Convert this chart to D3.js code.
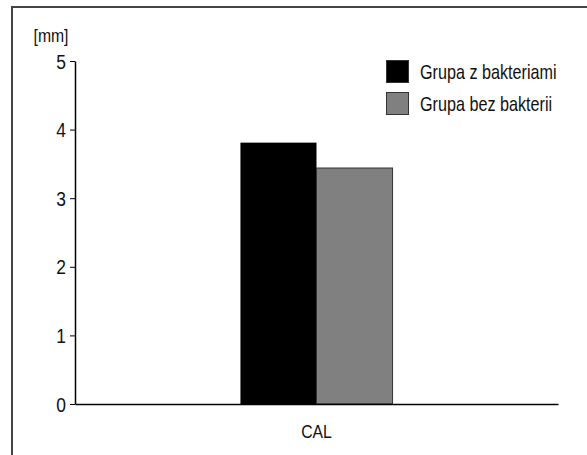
<!DOCTYPE html>
<html><head><meta charset="utf-8">
<script src="https://cdn.jsdelivr.net/npm/d3@7"></script>
<style>
html,body{margin:0;padding:0;background:#fff;}
svg{display:block;}
text{font-family:"Liberation Sans",Arial,sans-serif;fill:#111;}
</style></head>
<body>
<svg id="chart" width="587" height="455"></svg>
<script>
const categories = ["CAL"];
const seriesNames = ["Grupa z bakteriami", "Grupa bez bakterii"];
const seriesColors = ["#000000", "#808080"];
const valuesZ = [3.81];
const valuesBez = [3.44];
const yTicks = [0, 1, 2, 3, 4, 5];
const yUnit = "[mm]";

const SX = 0.83; // condensed look
const FF = "'Liberation Sans',Arial,sans-serif";
const svg = d3.select("#chart");
svg.append("path").attr("d", "M12,460V7H590").attr("fill", "none").attr("stroke", "#444").attr("stroke-width", 2);

const x0 = d3.scaleBand().domain(categories).range([75, 558]).paddingInner(0.521).paddingOuter(0.521);
const x1 = d3.scaleBand().domain(seriesNames).range([0, x0.bandwidth()]);
const y = d3.scaleLinear().domain([0, 5]).range([404, 61]);

const data = categories.map((c, i) => ({cat: c, vals: [valuesZ[i], valuesBez[i]]}));

const g = svg.append("g");
data.forEach(d => {
  d.vals.forEach((v, j) => {
    g.append("rect")
      .attr("x", x0(d.cat) + x1(seriesNames[j]))
      .attr("y", y(v))
      .attr("width", x1.bandwidth())
      .attr("height", y(0) - y(v))
      .attr("fill", seriesColors[j])
      .attr("stroke", j === 1 ? "#333" : "none")
      .attr("stroke-width", j === 1 ? 1 : 0);
  });
});

const yAxis = d3.axisLeft(y).tickValues(yTicks).tickFormat(d3.format("d")).tickSize(5).tickSizeOuter(0);
const ya = svg.append("g").attr("transform", "translate(75,0)").call(yAxis);
ya.select(".domain").attr("stroke", "#000").attr("stroke-width", 1.5);
ya.selectAll(".tick line").attr("stroke", "#000");
ya.selectAll(".tick text").attr("font-size", 21).attr("x", -9 / SX).attr("dy", "0.34em")
  .attr("transform", `scale(${SX},1)`).style("font-family", FF).style("fill", "#111");

const xAxis = d3.axisBottom(x0).tickSize(0).tickSizeOuter(0);
const xa = svg.append("g").attr("transform", "translate(0,404)").call(xAxis);
xa.select(".domain").attr("stroke", "#000").attr("stroke-width", 1.5);
xa.selectAll(".tick text").attr("font-size", 19).attr("y", 21).attr("dy", "0.71em")
  .attr("transform", `scale(${SX},1)`).style("font-family", FF).style("fill", "#111");

svg.append("text").attr("transform", `translate(51,42) scale(${SX},1)`).attr("text-anchor", "middle")
  .attr("font-size", 19).text(yUnit);

const leg = svg.append("g");
seriesNames.forEach((s, i) => {
  leg.append("rect").attr("x", 386.5).attr("y", 60.5 + i * 32).attr("width", 22).attr("height", 22)
    .attr("fill", seriesColors[i]).attr("stroke", "#333").attr("stroke-width", 1);
  leg.append("text").attr("transform", `translate(420,79) translate(0,${i * 32}) scale(${SX},1)`)
    .attr("font-size", 19.5).text(s);
});
</script>
</body></html>
